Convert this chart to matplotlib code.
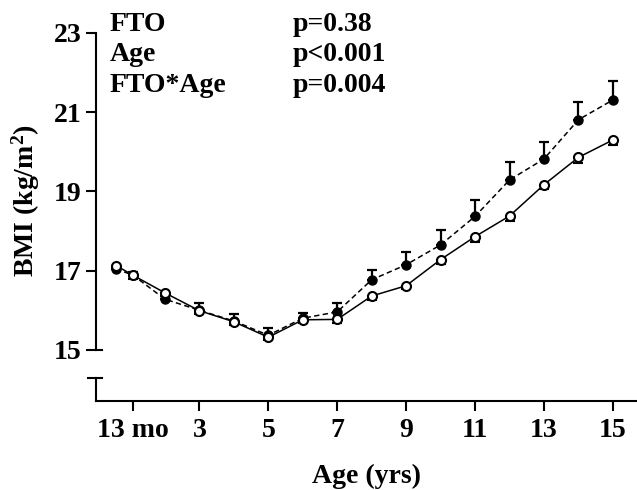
import matplotlib
matplotlib.use("Agg")
import matplotlib.pyplot as plt

plt.rcParams["font.family"] = "Liberation Serif"
plt.rcParams["font.weight"] = "bold"
plt.rcParams["mathtext.fontset"] = "custom"
plt.rcParams["mathtext.rm"] = "Liberation Serif:bold"
plt.rcParams["mathtext.it"] = "Liberation Serif:bold"
plt.rcParams["mathtext.bf"] = "Liberation Serif:bold"

# ages (years); first visit ~7 mo, second 13 mo
ages = [0.58, 1.083, 2, 3, 4, 5, 6, 7, 8, 9, 10, 11, 12, 13, 14, 15]

# filled circles, dashed line (upper error bars)
bmi_filled = [17.05, 16.88, 16.28, 16.00, 15.73, 15.37, 15.80, 15.96,
              16.77, 17.15, 17.65, 18.37, 19.29, 19.82, 20.81, 21.31]
err_filled = [0.08, 0.08, 0.08, 0.18, 0.17, 0.18, 0.14, 0.22,
              0.25, 0.31, 0.38, 0.42, 0.45, 0.44, 0.46, 0.48]

# open circles, solid line (lower error bars)
bmi_open = [17.13, 16.88, 16.44, 15.99, 15.71, 15.32, 15.76, 15.77,
            16.36, 16.62, 17.28, 17.86, 18.38, 19.17, 19.86, 20.30]
err_open = [0.08, 0.08, 0.08, 0.08, 0.08, 0.08, 0.08, 0.08,
            0.10, 0.09, 0.10, 0.13, 0.12, 0.12, 0.13, 0.14]

xtick_pos = [1.083, 3, 5, 7, 9, 11, 13, 15]
xtick_labels = ["13 mo", "3", "5", "7", "9", "11", "13", "15"]
ytick_pos = [15, 17, 19, 21, 23]

stat_names = ["FTO", "Age", "FTO*Age"]
stat_p = ["p=0.38", "p<0.001", "p=0.004"]

y_break = 14.285
fs = 20

fig = plt.figure(figsize=(6.37, 4.9), dpi=100)
ax = fig.add_axes([96 / 637, 1 - 401 / 490, 1 - 96 / 637, (401 - 33) / 490])

zeros = [0] * len(ages)
ax.errorbar(ages, bmi_filled, yerr=[zeros, err_filled], fmt="o", color="black",
            ms=6.5, ls=(0, (3.5, 2.2)), lw=1.1, elinewidth=1.6, capsize=3.8,
            capthick=1.6, zorder=2)
ax.errorbar(ages, bmi_open, yerr=[err_open, zeros], fmt="o", color="black",
            mfc="white", mec="black", mew=1.5, ms=6.5, ls="-", lw=1.1,
            elinewidth=1.6, capsize=3.8, capthick=1.6, zorder=3)

ax.set_xlim(0, 15.7)
ax.set_ylim(13.71, 23)

for s in ["top", "right"]:
    ax.spines[s].set_visible(False)
ax.spines["left"].set_linewidth(1.5)
ax.spines["bottom"].set_linewidth(1.5)
ax.spines["left"].set_bounds(15, 23)

# axis break: lower stub of y axis with small bars
yt = ax.get_yaxis_transform()
ax.plot([0, 0], [13.71, y_break], color="black", lw=1.5, transform=yt, clip_on=False)
ax.plot([-0.015, 0.011], [y_break, y_break], color="black", lw=1.5, transform=yt, clip_on=False)
ax.plot([0, 0.011], [15, 15], color="black", lw=1.5, transform=yt, clip_on=False)

ax.set_xticks(xtick_pos)
ax.set_xticklabels(xtick_labels)
ax.set_yticks(ytick_pos)
ax.tick_params(direction="out", length=7.5, width=1.5, labelsize=fs, pad=3)
ax.tick_params(axis="x", pad=5)

ax.set_xlabel("Age (yrs)", fontsize=fs, fontweight="bold")
ax.set_ylabel("BMI (kg/m$^2$)", fontsize=fs, fontweight="bold")
ax.xaxis.set_label_coords(0.5, -0.17)
ax.yaxis.set_label_coords(-0.1, 0.545)

for i, (name, p) in enumerate(zip(stat_names, stat_p)):
    yb = 1 - (30.7 + 30.5 * i) / 490
    fig.text(110 / 637, yb, name, fontsize=fs, fontweight="bold", va="baseline")
    fig.text(293 / 637, yb, p, fontsize=fs, fontweight="bold", va="baseline")

fig.savefig("out.png", dpi=100)
